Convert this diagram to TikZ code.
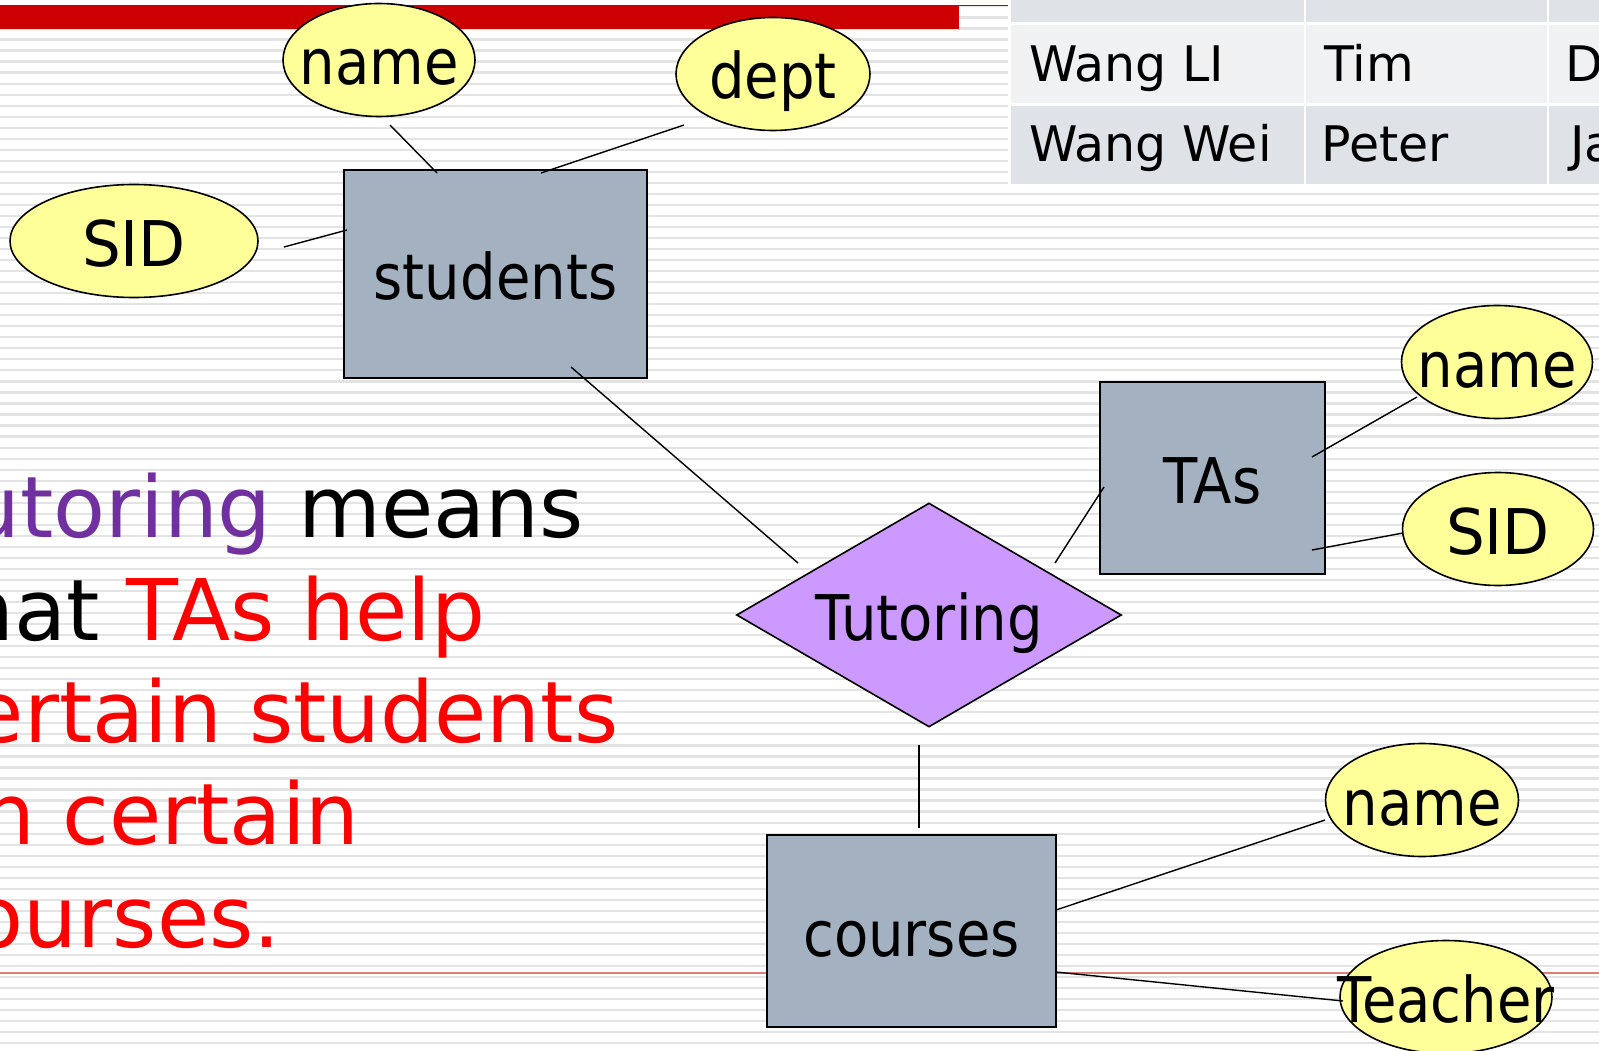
\documentclass[tikz,border=0pt]{standalone}
\usepackage{fontspec}
\setmainfont{DejaVu Sans}
\newfontfamily\erfont[FakeStretch=0.89]{DejaVu Sans}
\newfontfamily\erfontwide[FakeStretch=0.97]{DejaVu Sans}
\usetikzlibrary{shapes.geometric}

\definecolor{entityfill}{RGB}{163,177,192}
\definecolor{attrfill}{RGB}{255,255,153}
\definecolor{relfill}{RGB}{204,153,255}
\definecolor{stripegray}{RGB}{227,227,227}
\definecolor{barred}{RGB}{204,0,0}
\definecolor{rulered}{RGB}{224,124,124}
\definecolor{tutpurple}{RGB}{112,48,160}
\definecolor{cellA}{RGB}{223,226,231}
\definecolor{cellB}{RGB}{240,241,243}

\begin{document}
\begin{tikzpicture}[x=1pt,y=-1pt,
  erlabel/.style={inner sep=0pt, font=\erfont\fontsize{63}{63}\selectfont,
    text height=50pt, text depth=0pt},
  entity/.style={erlabel, rectangle, draw=black, line width=1.8pt, fill=entityfill},
  attr/.style={erlabel, ellipse, draw=black, line width=1.6pt, fill=attrfill,
    minimum height=113pt},
  relation/.style={erlabel, diamond, draw=black, line width=1.6pt, fill=relfill},
  link/.style={draw=black, line width=1.4pt},
  bodytext/.style={anchor=base west, inner sep=0pt,
    font=\fontsize{85}{102}\selectfont, text=red},
  celltext/.style={anchor=base west, inner sep=0pt,
    font=\fontsize{49}{59}\selectfont, text=black},
  stripeline/.style={draw=stripegray, line width=2.2pt}
]
\useasboundingbox (0,0) rectangle (1599,1051);
\clip (0,0) rectangle (1599,1051);

% ruled background
\fill[white] (0,0) rectangle (1599,1051);
\foreach \k in {0,...,95}
  \draw[stripeline] (0,{6.4+11.03*\k}) -- (1599,{6.4+11.03*\k});

% header bar and rules
\fill[barred] (0,5) rectangle (959,29);
\draw[barred, line width=1.4pt] (959,5.7) -- (1012,5.7);
\draw[rulered, line width=2pt] (0,973) -- (1599,973);

% table corner
\fill[white] (1008,0) rectangle (1599,189);
\fill[cellA] (1011,-60) rectangle (1304,22);
\fill[cellA] (1306,-60) rectangle (1547,22);
\fill[cellA] (1549,-60) rectangle (1610,22);
\fill[cellB] (1011,25) rectangle (1304,103);
\fill[cellB] (1306,25) rectangle (1547,103);
\fill[cellB] (1549,25) rectangle (1610,103);
\fill[cellA] (1011,106) rectangle (1304,184);
\fill[cellA] (1306,106) rectangle (1547,184);
\fill[cellA] (1549,106) rectangle (1610,184);
\node[celltext] (c11) at (1029,82) {Wang LI};
\node[celltext] (c12) at (1324,82) {Tim};
\node[celltext] (c13) at (1565,82) {D};
\node[celltext] (c21) at (1029,162) {Wang Wei};
\node[celltext] (c22) at (1321,162) {Peter};
\node[celltext] (c23) at (1570,162) {Ja};

% explanatory text
\node[bodytext, text=tutpurple] (t1) at (-73,537) {Tutoring \textcolor{black}{means}};
\node[bodytext, text=black] (t2) at (-73,640) {that \textcolor{red}{TAs help}};
\node[bodytext] (t3) at (-75,742) {certain students};
\node[bodytext] (t4) at (-42,844) {in certain};
\node[bodytext] (t5) at (-75,947) {courses.};

% entity sets
\node[entity, minimum width=303pt, minimum height=208pt] (students) at (495.5,274) {students};
\node[entity, minimum width=225pt, minimum height=192pt] (tas) at (1212.5,478) {TAs};
\node[entity, minimum width=289pt, minimum height=192pt] (courses) at (911.5,931) {courses};

% relationship
\node[relation, minimum width=385pt, minimum height=224pt] (tutoring) at (929,615) {\makebox[0pt]{Tutoring}};

% attributes
\node[attr, minimum width=192pt] (sname) at (379,60) {\makebox[0pt]{name}};
\node[attr, minimum width=194pt] (sdept) at (773,74) {\makebox[0pt]{dept}};
\node[attr, minimum width=248pt] (ssid) at (134,241) {\makebox[0pt]{\erfontwide SID}};
\node[attr, minimum width=191pt] (tname) at (1497,362) {\makebox[0pt]{name}};
\node[attr, minimum width=191pt] (tsid) at (1498,529) {\makebox[0pt]{\erfontwide SID}};
\node[attr, minimum width=193pt] (cname) at (1422,800) {\makebox[0pt]{name}};
\node[attr, minimum width=212pt] (cteacher) at (1446,997) {\makebox[0pt]{Teacher}};

% connector end points
\coordinate (sname-e) at (390,125);
\coordinate (students-n1) at (437,173);
\coordinate (sdept-e) at (684,125);
\coordinate (students-n2) at (541,173);
\coordinate (ssid-e) at (284,247);
\coordinate (students-w) at (347,230);
\coordinate (students-s) at (571,367);
\coordinate (tutoring-nw) at (798,563);
\coordinate (tutoring-ne) at (1055,563);
\coordinate (tas-w) at (1104,487);
\coordinate (tas-e1) at (1312,457);
\coordinate (tname-e) at (1417,397);
\coordinate (tas-e2) at (1312,550);
\coordinate (tsid-e) at (1403,533);
\coordinate (tutoring-s) at (919,745);
\coordinate (courses-n) at (919,828);
\coordinate (courses-e1) at (1056,910);
\coordinate (cname-e) at (1325,820);
\coordinate (courses-e2) at (1056,972);
\coordinate (cteacher-e) at (1343,1001);

% connectors
\draw[link] (sname-e) -- (students-n1);
\draw[link] (sdept-e) -- (students-n2);
\draw[link] (ssid-e) -- (students-w);
\draw[link] (students-s) -- (tutoring-nw);
\draw[link] (tutoring-ne) -- (tas-w);
\draw[link] (tas-e1) -- (tname-e);
\draw[link] (tas-e2) -- (tsid-e);
\draw[link] (tutoring-s) -- (courses-n);
\draw[link] (courses-e1) -- (cname-e);
\draw[link] (courses-e2) -- (cteacher-e);
\end{tikzpicture}
\end{document}
